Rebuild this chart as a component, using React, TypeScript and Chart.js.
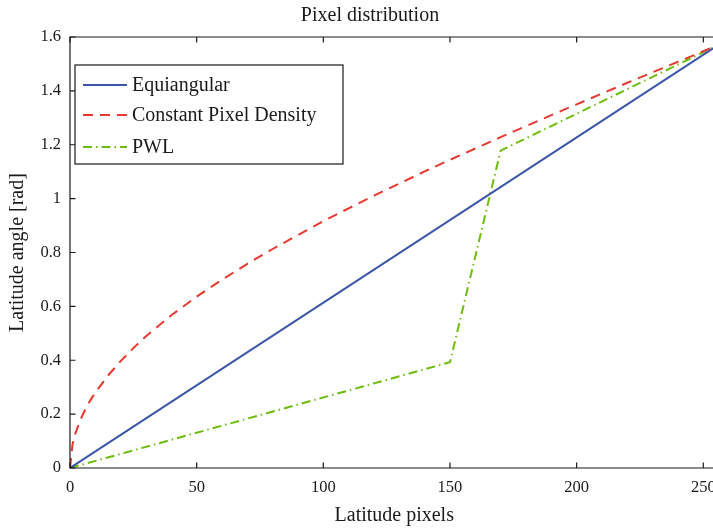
import React, { useEffect, useRef } from "react";
import { Chart, registerables } from "chart.js";

Chart.register(...registerables);

const titleText = "Pixel distribution";
const xAxisLabel = "Latitude pixels";
const yAxisLabel = "Latitude angle [rad]";

const equiangularX = [0, 256];
const equiangularY = [0, 1.5708];

const cpdX = [0, 1, 2, 4, 6, 8, 10, 15, 20, 25, 30, 40, 50, 60, 70, 80, 90, 100, 110, 120, 130, 140, 150, 160, 170, 180, 190, 200, 210, 220, 230, 240, 250, 256];
const cpdY = [0, 0.088, 0.125, 0.177, 0.217, 0.251, 0.28, 0.343, 0.397, 0.445, 0.489, 0.567, 0.636, 0.699, 0.758, 0.813, 0.865, 0.916, 0.964, 1.011, 1.056, 1.101, 1.144, 1.186, 1.228, 1.269, 1.31, 1.35, 1.39, 1.43, 1.469, 1.508, 1.547, 1.5708];

const pwlX = [0, 150, 170, 256];
const pwlY = [0, 0.3927, 1.1781, 1.5708];

const seriesLabels = ["Equiangular", "Constant Pixel Density", "PWL"];
const xTickValues = [0, 50, 100, 150, 200, 250];

const SERIF = "'Liberation Serif', 'Times New Roman', serif";

const pts = (xs: number[], ys: number[]) => xs.map((x, i) => ({ x, y: ys[i] }));

const frameTicksPlugin = {
  id: "frameTicks",
  afterDatasetsDraw(chart: any) {
    const { ctx, chartArea } = chart;
    const { left, right, top, bottom } = chartArea;
    const xs = chart.scales.x;
    const ys = chart.scales.y;
    ctx.save();
    ctx.strokeStyle = "#1a1a1a";
    ctx.lineWidth = 1.2;
    ctx.beginPath();
    ctx.moveTo(left, top);
    ctx.lineTo(right, top);
    ctx.lineTo(right, bottom);
    ctx.lineTo(left, bottom);
    ctx.closePath();
    ctx.stroke();
    const tl = 5.5;
    ctx.beginPath();
    xs.ticks.forEach((t: any) => {
      const px = xs.getPixelForValue(t.value);
      ctx.moveTo(px, bottom);
      ctx.lineTo(px, bottom - tl);
      ctx.moveTo(px, top);
      ctx.lineTo(px, top + tl);
    });
    ys.ticks.forEach((t: any) => {
      const py = ys.getPixelForValue(t.value);
      ctx.moveTo(left, py);
      ctx.lineTo(left + tl, py);
      ctx.moveTo(right, py);
      ctx.lineTo(right - tl, py);
    });
    ctx.stroke();

    // legend box
    const lx = left + 5;
    const ly = top + 28;
    const lw = 268;
    const lh = 99;
    ctx.fillStyle = "#ffffff";
    ctx.fillRect(lx, ly, lw, lh);
    ctx.strokeStyle = "#1a1a1a";
    ctx.lineWidth = 1.2;
    ctx.strokeRect(lx, ly, lw, lh);
    const rowY = [ly + 20, ly + 50, ly + 82];
    ctx.font = "20px " + SERIF;
    ctx.textBaseline = "middle";
    ctx.textAlign = "left";
    chart.data.datasets.forEach((ds: any, i: number) => {
      const y = rowY[i];
      ctx.save();
      ctx.strokeStyle = ds.borderColor;
      ctx.lineWidth = ds.borderWidth;
      ctx.setLineDash(ds.borderDash || []);
      ctx.beginPath();
      ctx.moveTo(lx + 8, y);
      ctx.lineTo(lx + 52, y);
      ctx.stroke();
      ctx.restore();
      ctx.fillStyle = "#1a1a1a";
      ctx.fillText(ds.label, lx + 57, y + 1);
    });
    ctx.restore();
  },
};

export default function App() {
  const ref = useRef<HTMLCanvasElement>(null);
  useEffect(() => {
    if (!ref.current) return;
    const chart = new Chart(ref.current, {
      type: "line",
      data: {
        datasets: [
          {
            label: seriesLabels[0],
            data: pts(equiangularX, equiangularY),
            borderColor: "#3a56a8",
            borderWidth: 2,
            pointRadius: 0,
            fill: false,
          },
          {
            label: seriesLabels[1],
            data: pts(cpdX, cpdY),
            borderColor: "#e8392e",
            borderWidth: 2,
            borderDash: [10, 7],
            pointRadius: 0,
            fill: false,
          },
          {
            label: seriesLabels[2],
            data: pts(pwlX, pwlY),
            borderColor: "#6cbd0c",
            borderWidth: 2,
            borderDash: [9, 4, 1.5, 4],
            pointRadius: 0,
            fill: false,
          },
        ],
      },
      options: {
        animation: false,
        responsive: false,
        maintainAspectRatio: false,
        layout: { padding: 0 },
        plugins: {
          legend: { display: false },
          tooltip: { enabled: false },
          title: {
            display: true,
            text: titleText,
            color: "#1a1a1a",
            font: { family: SERIF, size: 20, weight: "normal" },
            padding: { top: 4, bottom: 9 },
          },
        },
        scales: {
          x: {
            type: "linear",
            min: 0,
            max: 256,
            grid: { display: false, drawTicks: false },
            border: { display: false },
            afterBuildTicks: (scale: any) => {
              scale.ticks = xTickValues.map((v) => ({ value: v }));
            },
            ticks: {
              color: "#1a1a1a",
              font: { family: SERIF, size: 16.5 },
              padding: 10,
              maxRotation: 0,
            },
            title: {
              display: true,
              text: xAxisLabel,
              color: "#1a1a1a",
              font: { family: SERIF, size: 20 },
              padding: { top: 0, bottom: 0 },
            },
            afterFit: (scale: any) => {
              scale.height = 60;
            },
          },
          y: {
            type: "linear",
            min: 0,
            max: 1.6,
            grid: { display: false, drawTicks: false },
            border: { display: false },
            ticks: {
              stepSize: 0.2,
              color: "#1a1a1a",
              font: { family: SERIF, size: 16.5 },
              padding: 9,
              callback: (v: any) => String(Number(Number(v).toFixed(1))),
            },
            title: {
              display: true,
              text: yAxisLabel,
              color: "#1a1a1a",
              font: { family: SERIF, size: 20 },
              padding: { top: 6, bottom: 0 },
            },
            afterFit: (scale: any) => {
              scale.width = 70;
            },
          },
          yPad: {
            type: "linear",
            position: "right",
            display: true,
            min: 0,
            max: 1.6,
            grid: { display: false, drawTicks: false },
            border: { display: false },
            ticks: { display: false },
            afterFit: (scale: any) => {
              scale.width = 21.5;
            },
          },
        },
      },
      plugins: [frameTicksPlugin],
    });
    return () => chart.destroy();
  }, []);
  return (
    <div style={{ position: "fixed", left: 0, top: 0, width: 713, height: 528, overflow: "hidden", background: "#fff" }}>
      <canvas ref={ref} width={740} height={528} style={{ width: 740, height: 528, display: "block" }} />
    </div>
  );
}
